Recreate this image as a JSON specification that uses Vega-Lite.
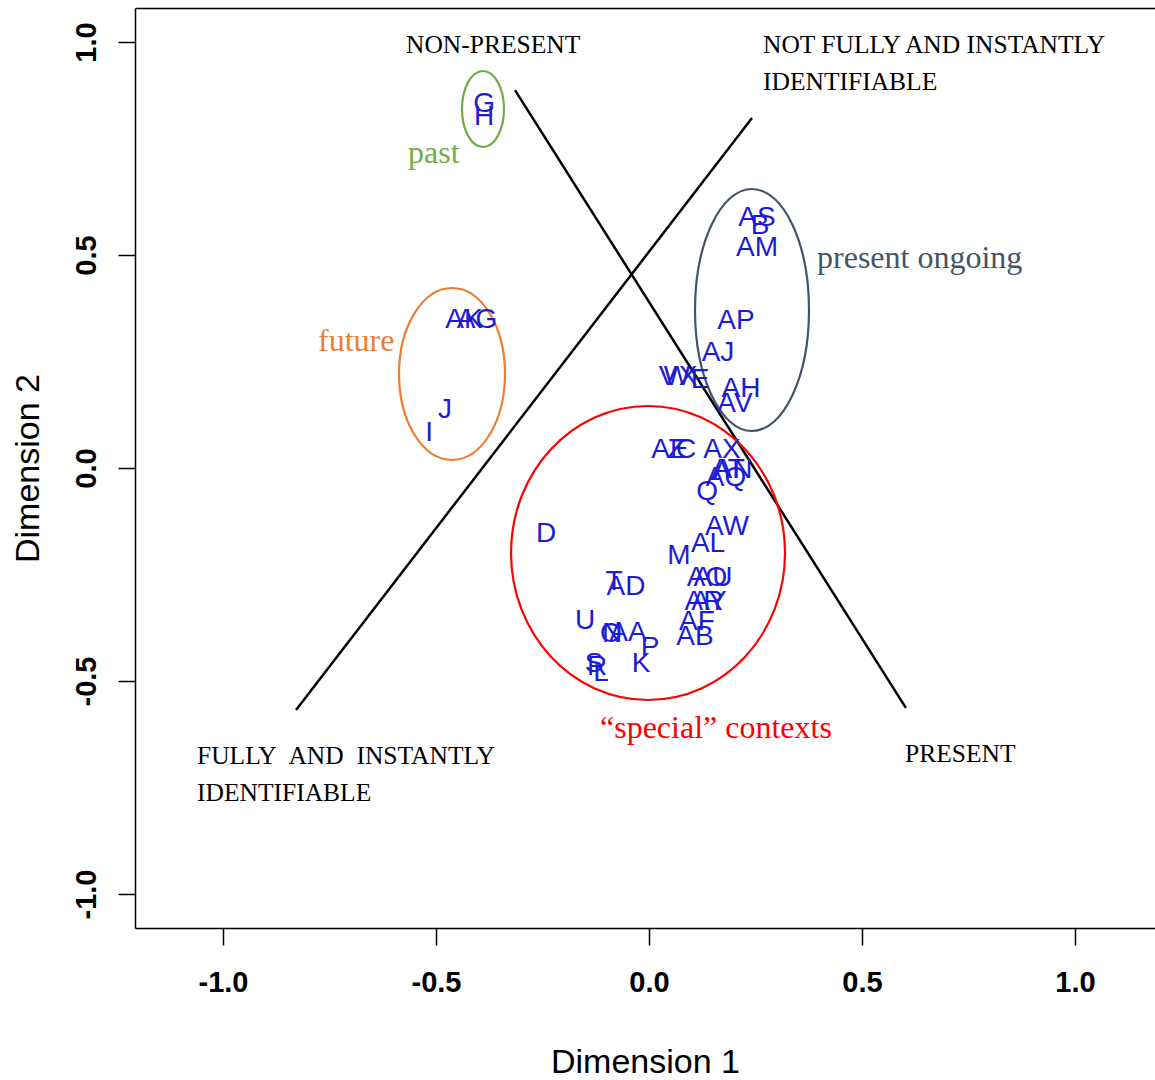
{
  "$schema": "https://vega.github.io/schema/vega-lite/v6.json",
  "width": 1020,
  "height": 920,
  "autosize": "none",
  "padding": {"left": 135, "top": 8, "right": 0, "bottom": 152},
  "background": "white",
  "config": {
    "view": {"stroke": null},
    "axis": {"grid": false, "domainColor": "black", "tickColor": "black", "labelColor": "black", "titleColor": "black", "labelFont": "Liberation Sans", "titleFont": "Liberation Sans", "domainWidth": 1.5, "tickWidth": 1.5}
  },
  "datasets": {
    "lines": [
      {"id": "a", "x": -0.3146, "y": 0.887},
      {"id": "a", "x": 0.603, "y": -0.563},
      {"id": "b", "x": -0.8286, "y": -0.568},
      {"id": "b", "x": 0.2418, "y": 0.8216}
    ],
    "ellipses": [
      {"group": "past", "x": -0.3897, "y": 0.8427},
      {"group": "future", "x": -0.4624, "y": 0.2207},
      {"group": "ongoing", "x": 0.2418, "y": 0.3709},
      {"group": "special", "x": -0.0023, "y": -0.1995}
    ],
    "pts": [
      {"label": "G", "x": -0.3873, "y": 0.8545},
      {"label": "H", "x": -0.3873, "y": 0.8239},
      {"label": "AK", "x": -0.4343, "y": 0.3474},
      {"label": "AG", "x": -0.4038, "y": 0.3474},
      {"label": "J", "x": -0.4789, "y": 0.1362},
      {"label": "I", "x": -0.5164, "y": 0.0822},
      {"label": "AS", "x": 0.2535, "y": 0.5857},
      {"label": "B", "x": 0.2606, "y": 0.5681},
      {"label": "AM", "x": 0.2535, "y": 0.5164},
      {"label": "AP", "x": 0.2042, "y": 0.3451},
      {"label": "AJ", "x": 0.162, "y": 0.27},
      {"label": "V", "x": 0.0446, "y": 0.2136},
      {"label": "W", "x": 0.0657, "y": 0.2136},
      {"label": "X", "x": 0.0915, "y": 0.2136},
      {"label": "E", "x": 0.1197, "y": 0.2066},
      {"label": "AH", "x": 0.216, "y": 0.1854},
      {"label": "AV", "x": 0.2019, "y": 0.1502},
      {"label": "AE", "x": 0.0493, "y": 0.0423},
      {"label": "Z", "x": 0.0634, "y": 0.0423},
      {"label": "C", "x": 0.0869, "y": 0.0423},
      {"label": "AX", "x": 0.1714, "y": 0.0423},
      {"label": "AT", "x": 0.1854, "y": -0.0047},
      {"label": "AN", "x": 0.1972, "y": -0.0047},
      {"label": "AQ", "x": 0.1808, "y": -0.0235},
      {"label": "Q", "x": 0.1362, "y": -0.0563},
      {"label": "AW", "x": 0.1831, "y": -0.1385},
      {"label": "AL", "x": 0.1385, "y": -0.1784},
      {"label": "M", "x": 0.0704, "y": -0.2066},
      {"label": "D", "x": -0.2418, "y": -0.1549},
      {"label": "T", "x": -0.0822, "y": -0.2676},
      {"label": "AD", "x": -0.054, "y": -0.2793},
      {"label": "AO", "x": 0.1362, "y": -0.2582},
      {"label": "AU", "x": 0.1502, "y": -0.2582},
      {"label": "AR", "x": 0.1291, "y": -0.3146},
      {"label": "AY", "x": 0.1408, "y": -0.3146},
      {"label": "AF", "x": 0.1127, "y": -0.3615},
      {"label": "AB", "x": 0.108, "y": -0.3967},
      {"label": "U", "x": -0.1502, "y": -0.3592},
      {"label": "O", "x": -0.0892, "y": -0.3897},
      {"label": "N", "x": -0.0869, "y": -0.3897},
      {"label": "AA", "x": -0.0493, "y": -0.3873},
      {"label": "P", "x": 0.0023, "y": -0.4225},
      {"label": "K", "x": -0.0188, "y": -0.4601},
      {"label": "S", "x": -0.1291, "y": -0.4601},
      {"label": "R", "x": -0.1221, "y": -0.4671},
      {"label": "L", "x": -0.1127, "y": -0.4812}
    ],
    "bounds": [
      {"text": "NON-PRESENT", "x": -0.5704, "y": 0.993},
      {"text": "NOT FULLY AND INSTANTLY", "x": 0.2676, "y": 0.993},
      {"text": "IDENTIFIABLE", "x": 0.2676, "y": 0.906},
      {"text": "FULLY \u00a0AND \u00a0INSTANTLY", "x": -1.061, "y": -0.676},
      {"text": "IDENTIFIABLE", "x": -1.061, "y": -0.763},
      {"text": "PRESENT", "x": 0.601, "y": -0.671}
    ],
    "groups": [
      {"group": "past", "text": "past", "x": -0.5657, "y": 0.739},
      {"group": "future", "text": "future", "x": -0.777, "y": 0.298},
      {"group": "ongoing", "text": "present ongoing", "x": 0.3944, "y": 0.493},
      {"group": "special", "text": "“special” contexts", "x": -0.115, "y": -0.61}
    ]
  },
  "resolve": {"axis": {"x": "independent", "y": "independent"}, "scale": {"color": "shared"}},
  "layer": [
    {
      "data": {"name": "lines"},
      "mark": {"type": "line", "color": "black", "strokeWidth": 2.5},
      "encoding": {
        "x": {"field": "x", "type": "quantitative",
          "scale": {"domain": [-1.2066, 1.1878], "nice": false, "zero": false},
          "axis": {"orient": "bottom", "values": [-1, -0.5, 0, 0.5, 1], "labelExpr": "datum.value < 0 ? '-' + format(-datum.value, '.1f') : format(datum.value, '.1f')", "tickSize": 17, "labelPadding": 23, "labelFontSize": 29, "labelFontWeight": "bold", "labelBaseline": "top", "title": "Dimension 1", "titleFontSize": 34, "titleFontWeight": "normal", "titlePadding": 48}},
        "y": {"field": "y", "type": "quantitative",
          "scale": {"domain": [-1.0798, 1.0798], "nice": false, "zero": false},
          "axis": {"orient": "left", "values": [-1, -0.5, 0, 0.5, 1], "labelExpr": "datum.value < 0 ? '-' + format(-datum.value, '.1f') : format(datum.value, '.1f')", "tickSize": 17, "labelPadding": 17, "labelFontSize": 29, "labelFontWeight": "bold", "labelAngle": -90, "labelAlign": "center", "labelBaseline": "bottom", "title": "Dimension 2", "titleFontSize": 34, "titleFontWeight": "normal", "titlePadding": 27}},
        "detail": {"field": "id"}
      }
    },
    {
      "data": {"name": "ellipses"},
      "mark": {"type": "point", "filled": false, "strokeWidth": 2.2, "size": 4, "opacity": 1},
      "encoding": {
        "x": {"field": "x", "type": "quantitative", "axis": {"orient": "top", "labels": false, "ticks": false, "title": null, "domain": true}},
        "y": {"field": "y", "type": "quantitative", "axis": null},
        "shape": {"field": "group", "type": "nominal", "legend": null,
          "scale": {"domain": ["past", "future", "ongoing", "special"],
            "range": [
              "M -21 0 A 21 38 0 1 0 21 0 A 21 38 0 1 0 -21 0 Z",
              "M -53 0 A 53 86 0 1 0 53 0 A 53 86 0 1 0 -53 0 Z",
              "M -57 0 A 57 121 0 1 0 57 0 A 57 121 0 1 0 -57 0 Z",
              "M -137 0 A 137 147 0 1 0 137 0 A 137 147 0 1 0 -137 0 Z"
            ]}},
        "stroke": {"field": "group", "type": "nominal", "legend": null,
          "scale": {"domain": ["past", "future", "ongoing", "special"], "range": ["#70ad47", "#ed7d31", "#44546a", "#ff0000"]}}
      }
    },
    {
      "data": {"name": "pts"},
      "mark": {"type": "text", "font": "Liberation Sans", "fontSize": 28, "color": "#1c1cd8", "align": "center", "baseline": "middle"},
      "encoding": {
        "x": {"field": "x", "type": "quantitative", "axis": null},
        "y": {"field": "y", "type": "quantitative", "axis": null},
        "text": {"field": "label"}
      }
    },
    {
      "data": {"name": "bounds"},
      "mark": {"type": "text", "font": "Liberation Serif", "fontSize": 25.5, "color": "black", "align": "left", "baseline": "middle"},
      "encoding": {
        "x": {"field": "x", "type": "quantitative", "axis": null},
        "y": {"field": "y", "type": "quantitative", "axis": null},
        "text": {"field": "text"}
      }
    },
    {
      "data": {"name": "groups"},
      "mark": {"type": "text", "font": "Liberation Serif", "fontSize": 32, "align": "left", "baseline": "middle"},
      "encoding": {
        "x": {"field": "x", "type": "quantitative", "axis": null},
        "y": {"field": "y", "type": "quantitative", "axis": null},
        "text": {"field": "text"},
        "color": {"field": "group", "type": "nominal", "legend": null,
          "scale": {"domain": ["past", "future", "ongoing", "special"], "range": ["#70ad47", "#ed7d31", "#44546a", "#ff0000"]}}
      }
    }
  ]
}
